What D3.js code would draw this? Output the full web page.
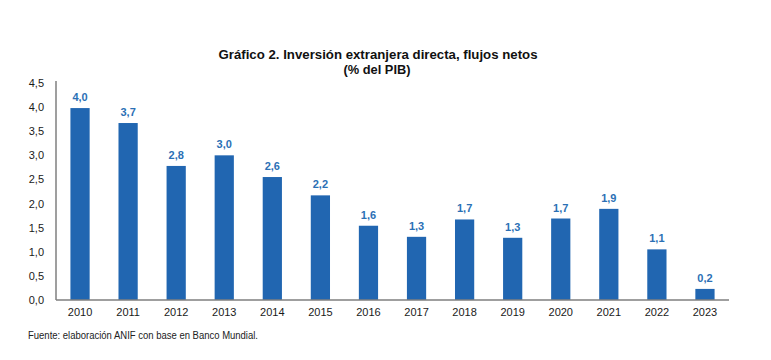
<!DOCTYPE html>
<html><head><meta charset="utf-8">
<script src="https://cdn.jsdelivr.net/npm/d3@7"></script>
<style>body{margin:0;background:#fff;} svg{display:block;font-family:"Liberation Sans",Arial,sans-serif;}</style>
</head><body><svg id="c" width="771" height="360"></svg>
<script>
const years = ["2010","2011","2012","2013","2014","2015","2016","2017","2018","2019","2020","2021","2022","2023"];
const values = [3.98, 3.67, 2.78, 3.0, 2.55, 2.17, 1.54, 1.31, 1.67, 1.29, 1.69, 1.89, 1.05, 0.23];
const valueLabels = ["4,0","3,7","2,8","3,0","2,6","2,2","1,6","1,3","1,7","1,3","1,7","1,9","1,1","0,2"];
const yTicks = [0, 0.5, 1, 1.5, 2, 2.5, 3, 3.5, 4, 4.5];
const titleLines = ["Gráfico 2. Inversión extranjera directa, flujos netos", "(% del PIB)"];
const source = "Fuente: elaboración ANIF con base en Banco Mundial.";

const svg = d3.select("#c");
const x = d3.scaleBand().domain(years).range([56, 729]).paddingInner(0.6).paddingOuter(0.3);
const y = d3.scaleLinear().domain([0, 4.5]).range([300, 83]);
const fmt = d => d3.format(".1f")(d).replace(".", ",");

// bars
svg.append("g").selectAll("rect").data(values).join("rect")
  .attr("x", (d,i) => x(years[i])).attr("width", x.bandwidth())
  .attr("y", d => y(d)).attr("height", d => y(0) - y(d))
  .attr("fill", "#2166b1");

// value labels
svg.append("g").selectAll("text").data(values).join("text")
  .attr("x", (d,i) => x(years[i]) + x.bandwidth()/2)
  .attr("y", d => y(d) - 7)
  .attr("text-anchor", "middle").attr("font-size", 11).attr("font-weight", "bold")
  .attr("fill", "#2b70b5")
  .text((d,i) => valueLabels[i]);

// y axis
const ya = svg.append("g").attr("transform", "translate(56,0)")
  .call(d3.axisLeft(y).tickValues(yTicks).tickFormat(fmt).tickSize(0).tickPadding(12));
ya.select(".domain").attr("stroke", "#7f7f7f").attr("stroke-width", 1.5).attr("d", "M0,81V300");
ya.selectAll("text").attr("font-size", 11).attr("fill", "#1a1a1a").attr("font-family", "Liberation Sans, Arial, sans-serif");

// x axis
const xa = svg.append("g").attr("transform", "translate(0,300)")
  .call(d3.axisBottom(x).tickSize(0).tickPadding(8));
xa.select(".domain").attr("stroke", "#7f7f7f").attr("stroke-width", 1.5).attr("d", "M56,0H729");
xa.selectAll("text").attr("font-size", 11).attr("fill", "#1a1a1a").attr("font-family", "Liberation Sans, Arial, sans-serif");

// title
svg.append("text").attr("x", 378).attr("y", 59).attr("text-anchor", "middle")
  .attr("font-size", 12.5).attr("font-weight", "bold").attr("fill", "#111")
  .attr("textLength", 319).attr("lengthAdjust", "spacingAndGlyphs").text(titleLines[0]);
svg.append("text").attr("x", 377).attr("y", 74).attr("text-anchor", "middle")
  .attr("font-size", 12.5).attr("font-weight", "bold").attr("fill", "#111")
  .attr("textLength", 67).attr("lengthAdjust", "spacingAndGlyphs").text(titleLines[1]);

// source
svg.append("text").attr("x", 28).attr("y", 339).attr("font-size", 10).attr("fill", "#222")
  .attr("textLength", 230).attr("lengthAdjust", "spacingAndGlyphs").text(source);
</script></body></html>
